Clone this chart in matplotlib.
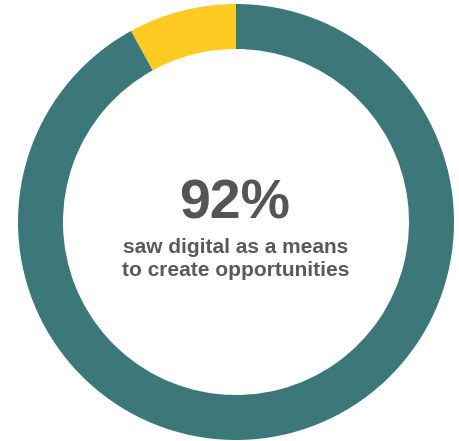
import matplotlib
matplotlib.use("Agg")
import matplotlib.pyplot as plt

# share of respondents
segments = ["did not", "saw digital as a means"]
shares = [8, 92]
colors = ["#fdcb22", "#3c7879"]

headline = "92%"
caption = "saw digital as a means\nto create opportunities"

W, H = 460, 441
fig = plt.figure(figsize=(W / 100, H / 100), dpi=100)
ax = fig.add_axes([0, 0, 1, 1])

cx, cy, r = 236, 219, 218
ax.pie(shares, colors=colors, startangle=90, counterclock=True,
       center=(cx, cy), radius=r, frame=True,
       wedgeprops=dict(width=45, linewidth=0))
ax.set_xlim(0, W)
ax.set_ylim(0, H)
ax.set_aspect("equal")
ax.axis("off")

font = ["Liberation Sans", "DejaVu Sans"]
ax.text(cx - 1, H - 205, headline, ha="center", va="center",
        fontsize=40, fontweight="bold", color="#555555", family=font)
ax.text(cx, H - 259, caption, ha="center", va="center",
        fontsize=15, fontweight="bold", color="#5a5a5a", family=font,
        linespacing=1.32)

fig.savefig("out.png", dpi=100)
